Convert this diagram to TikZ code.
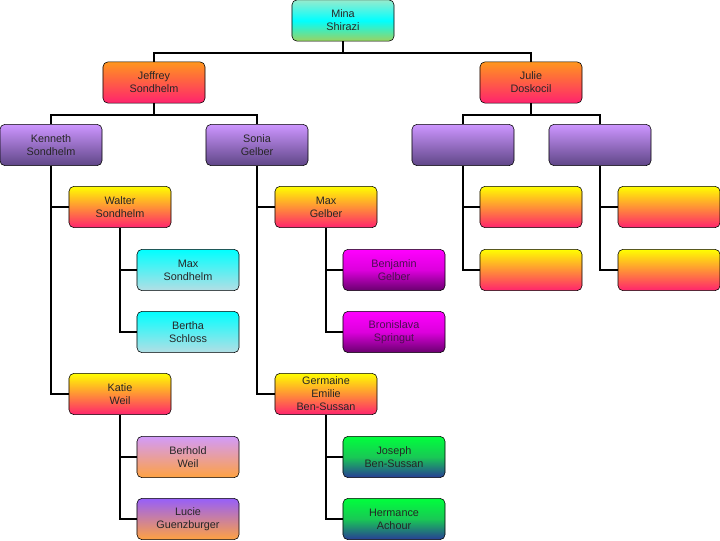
\documentclass[tikz,border=0pt]{standalone}
\usepackage{fontspec}
\setmainfont{Liberation Sans}

% cores dos degradês
\definecolor{cianoA}{RGB}{150,235,205}
\definecolor{ciano}{RGB}{0,255,255}
\definecolor{verdeB}{RGB}{155,210,95}
\definecolor{laranja}{RGB}{255,150,30}
\definecolor{rosa}{RGB}{255,35,110}
\definecolor{lilas}{RGB}{205,150,255}
\definecolor{roxo}{RGB}{95,70,135}
\definecolor{amarelo}{RGB}{255,255,0}
\definecolor{azulclaro}{RGB}{180,222,228}
\definecolor{magentaA}{RGB}{255,0,255}
\definecolor{magentaM}{RGB}{220,0,220}
\definecolor{magentaesc}{RGB}{105,0,110}
\definecolor{textomag}{RGB}{75,15,80}
\definecolor{lilasB}{RGB}{210,155,250}
\definecolor{violeta}{RGB}{150,95,250}
\definecolor{laranjaB}{RGB}{255,162,65}
\definecolor{verde}{RGB}{0,255,60}
\definecolor{verdeM}{RGB}{25,200,85}
\definecolor{azulesc}{RGB}{40,60,150}

\begin{document}
\begin{tikzpicture}[
    x=0.025cm, y=-0.025cm,
    % caixa comum de pessoa
    pessoa/.style={
        draw, rounded corners=3.5pt, thin,
        font=\fontsize{7.7}{9.3}\selectfont, text=black!85,
        minimum width=2.55cm, minimum height=1.03cm,
        inner sep=1pt, align=center
    },
    raiz/.style={pessoa, top color=cianoA, bottom color=verdeB, middle color=ciano},
    pais/.style={pessoa, top color=laranja, bottom color=rosa},
    roxa/.style={pessoa, top color=lilas, bottom color=roxo},
    amarela/.style={pessoa, top color=amarelo, bottom color=rosa},
    ciana/.style={pessoa, top color=ciano, bottom color=azulclaro},
    mag/.style={pessoa, top color=magentaA, bottom color=magentaesc,
        middle color=magentaM, text=textomag},
    lilasl/.style={pessoa, top color=lilasB, bottom color=laranjaB},
    violl/.style={pessoa, top color=violeta, bottom color=laranjaB},
    verdel/.style={pessoa, top color=verde, bottom color=azulesc, middle color=verdeM},
    ligacao/.style={draw, line width=2pt}
]
\useasboundingbox (0,0) rectangle (720,540);

% ---- NÍVEL 0 ----
\node[raiz] (mina) at (343, 20.5) {Mina\\Shirazi};

% ---- NÍVEL 1 ----
\node[pais] (jeffrey) at (154, 82.5) {Jeffrey\\Sondhelm};
\node[pais] (julie)   at (531, 82.5) {Julie\\Doskocil};

\coordinate (bif_mina) at (343, 53);
\draw[ligacao] (mina.south) -- (bif_mina);
\draw[ligacao] (bif_mina) -| (jeffrey.north);
\draw[ligacao] (bif_mina) -| (julie.north);

% ---- NÍVEL 2 ----
\node[roxa] (kenneth) at (51, 145)  {Kenneth\\Sondhelm};
\node[roxa] (sonia)   at (257, 145) {Sonia\\Gelber};
\node[roxa] (vazio1)  at (463, 145) {};
\node[roxa] (vazio2)  at (600, 145) {};

\coordinate (bif_jeff) at (154, 115);
\draw[ligacao] (jeffrey.south) -- (bif_jeff);
\draw[ligacao] (bif_jeff) -| (kenneth.north);
\draw[ligacao] (bif_jeff) -| (sonia.north);

\coordinate (bif_julie) at (531, 115);
\draw[ligacao] (julie.south) -- (bif_julie);
\draw[ligacao] (bif_julie) -| (vazio1.north);
\draw[ligacao] (bif_julie) -| (vazio2.north);

% ---- RAMO SONDHELM ----
\node[amarela] (walter) at (120, 207) {Walter\\Sondhelm};
\node[amarela] (katie)  at (120, 394) {Katie\\Weil};

\draw[ligacao] (kenneth.south) |- (walter.west);
\draw[ligacao] (kenneth.south) |- (katie.west);

\node[ciana]  (maxs)    at (188, 270) {Max\\Sondhelm};
\node[ciana]  (bertha)  at (188, 332) {Bertha\\Schloss};
\node[lilasl] (berhold) at (188, 457) {Berhold\\Weil};
\node[violl]  (lucie)   at (188, 519) {Lucie\\Guenzburger};

\draw[ligacao] (walter.south) |- (maxs.west);
\draw[ligacao] (walter.south) |- (bertha.west);
\draw[ligacao] (katie.south)  |- (berhold.west);
\draw[ligacao] (katie.south)  |- (lucie.west);

% ---- RAMO GELBER ----
\node[amarela] (maxg)     at (326, 207) {Max\\Gelber};
\node[amarela] (germaine) at (326, 394) {Germaine\\Emilie\\Ben-Sussan};

\draw[ligacao] (sonia.south) |- (maxg.west);
\draw[ligacao] (sonia.south) |- (germaine.west);

\node[mag]    (benjamin)   at (394, 270) {Benjamin\\Gelber};
\node[mag]    (bronislava) at (394, 332) {Bronislava\\Springut};
\node[verdel] (joseph)     at (394, 457) {Joseph\\Ben-Sussan};
\node[verdel] (hermance)   at (394, 519) {Hermance\\Achour};

\draw[ligacao] (maxg.south)     |- (benjamin.west);
\draw[ligacao] (maxg.south)     |- (bronislava.west);
\draw[ligacao] (germaine.south) |- (joseph.west);
\draw[ligacao] (germaine.south) |- (hermance.west);

% ---- RAMO DOSKOCIL (caixas vazias) ----
\node[amarela] (am1) at (531, 207) {};
\node[amarela] (am2) at (531, 270) {};
\node[amarela] (am3) at (669, 207) {};
\node[amarela] (am4) at (669, 270) {};

\draw[ligacao] (vazio1.south) |- (am1.west);
\draw[ligacao] (vazio1.south) |- (am2.west);
\draw[ligacao] (vazio2.south) |- (am3.west);
\draw[ligacao] (vazio2.south) |- (am4.west);

\end{tikzpicture}
\end{document}
